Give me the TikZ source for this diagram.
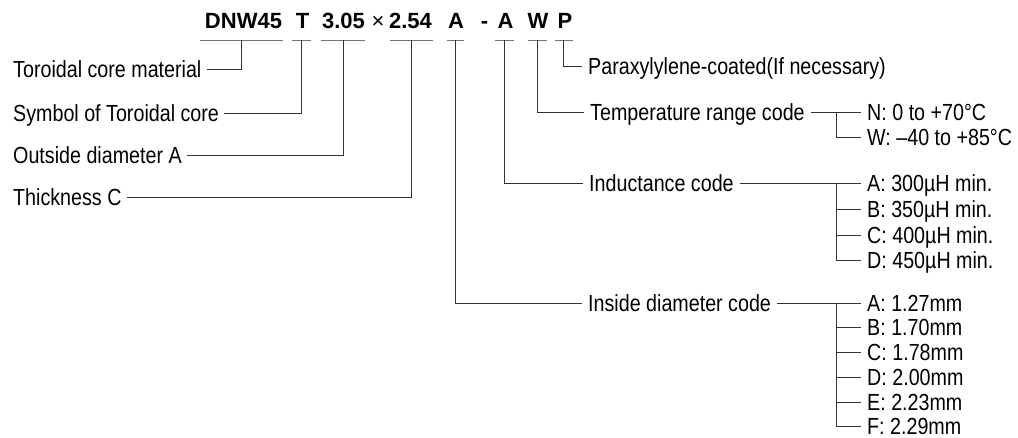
\documentclass[tikz,border=0pt]{standalone}
\usepackage{fontspec}
\setmainfont{Liberation Sans}
\newfontfamily\labfont{Liberation Sans}[FakeStretch=0.845]
\begin{document}
\begin{tikzpicture}[x=1pt,y=-1pt,
  conn/.style={draw=black!80,line width=0.9pt},
  uline/.style={draw=black!55,line width=0.9pt},
  ttl/.style={inner sep=0pt,anchor=base,font=\fontsize{22}{24}\selectfont\bfseries},
  ttlx/.style={inner sep=0pt,anchor=base,font=\fontsize{22}{24}\selectfont},
  lab/.style={inner xsep=5pt,inner ysep=0pt,text height=16.7pt,text depth=0pt,font=\labfont\fontsize{23.3}{25}\selectfont},
  llab/.style={lab,anchor=west},
  rlab/.style={lab,inner xsep=6pt,anchor=west}]
\useasboundingbox (0,0) rectangle (1018,438);
% title tokens
\node[ttl] (t1) at (243.5,29) {DNW45};
\node[ttl] (t2) at (302.5,29) {T};
\node[ttl] (t3) at (343.5,29) {3.05};
\node[ttlx] (tx) at (378,29) {×};
\node[ttl] (t4) at (410.5,29) {2.54};
\node[ttl] (t5) at (456,29) {A};
\node[ttl] (td) at (484.5,29) {-};
\node[ttl] (t6) at (505.5,29) {A};
\node[ttl] (t7) at (538,29) {W};
\node[ttl] (t8) at (565,29) {P};
% underlines
\draw[uline] (200,40) -- (283,40);
\draw[uline] (292,40) -- (311,40);
\draw[uline] (321,40) -- (365,40);
\draw[uline] (390,40) -- (433,40);
\draw[uline] (447,40) -- (464,40);
\draw[uline] (495,40) -- (514,40);
\draw[uline] (528,40) -- (547,40);
\draw[uline] (555,40) -- (573,40);
\coordinate (u1) at (241.5,40);
\coordinate (u2) at (301.5,40);
\coordinate (u3) at (343,40);
\coordinate (u4) at (411,40);
\coordinate (u5) at (455,40);
\coordinate (u6) at (504,40);
\coordinate (u7) at (537,40);
\coordinate (u8) at (563,40);
% left labels
\node[llab] (l1) at (8,69) {Toroidal core material};
\node[llab] (l2) at (8,113) {Symbol of Toroidal core};
\node[llab] (l3) at (8,155) {Outside diameter A};
\node[llab] (l4) at (8,197) {Thickness C};
\draw[conn] (l1.east) -| (u1);
\draw[conn] (l2.east) -| (u2);
\draw[conn] (l3.east) -| (u3);
\draw[conn] (l4.east) -| (u4);
% right labels
\node[rlab] (r1) at (582,66) {Paraxylylene-coated(If necessary)};
\node[rlab] (r2) at (584,112) {Temperature range code};
\node[rlab] (r3) at (583,183) {Inductance code};
\node[rlab] (r4) at (582,303) {Inside diameter code};
\draw[conn] (u8) |- (r1.west);
\draw[conn] (u7) |- (r2.west);
\draw[conn] (u6) |- (r3.west);
\draw[conn] (u5) |- (r4.west);
% temperature options
\node[rlab] (n1) at (861,112) {N: 0 to +70°C};
\node[rlab] (n2) at (861,137) {W: –40 to +85°C};
\coordinate (j1) at (836.5,112);
\draw[conn] (r2.east) -- (n1.west);
\draw[conn] (j1) |- (n2.west);
% inductance options
\node[rlab] (i1) at (861,183) {A: 300µH min.};
\node[rlab] (i2) at (861,209) {B: 350µH min.};
\node[rlab] (i3) at (861,235) {C: 400µH min.};
\node[rlab] (i4) at (861,260) {D: 450µH min.};
\coordinate (j2) at (836.5,183);
\draw[conn] (r3.east) -- (i1.west);
\draw[conn] (j2) |- (i2.west);
\draw[conn] (j2) |- (i3.west);
\draw[conn] (j2) |- (i4.west);
% inside diameter options
\node[rlab] (d1) at (861,303) {A: 1.27mm};
\node[rlab] (d2) at (861,327.5) {B: 1.70mm};
\node[rlab] (d3) at (861,352.5) {C: 1.78mm};
\node[rlab] (d4) at (861,377.5) {D: 2.00mm};
\node[rlab] (d5) at (861,402) {E: 2.23mm};
\node[rlab] (d6) at (861,426.5) {F: 2.29mm};
\coordinate (j3) at (836.5,303);
\draw[conn] (r4.east) -- (d1.west);
\draw[conn] (j3) |- (d2.west);
\draw[conn] (j3) |- (d3.west);
\draw[conn] (j3) |- (d4.west);
\draw[conn] (j3) |- (d5.west);
\draw[conn] (j3) |- (d6.west);
\end{tikzpicture}
\end{document}
